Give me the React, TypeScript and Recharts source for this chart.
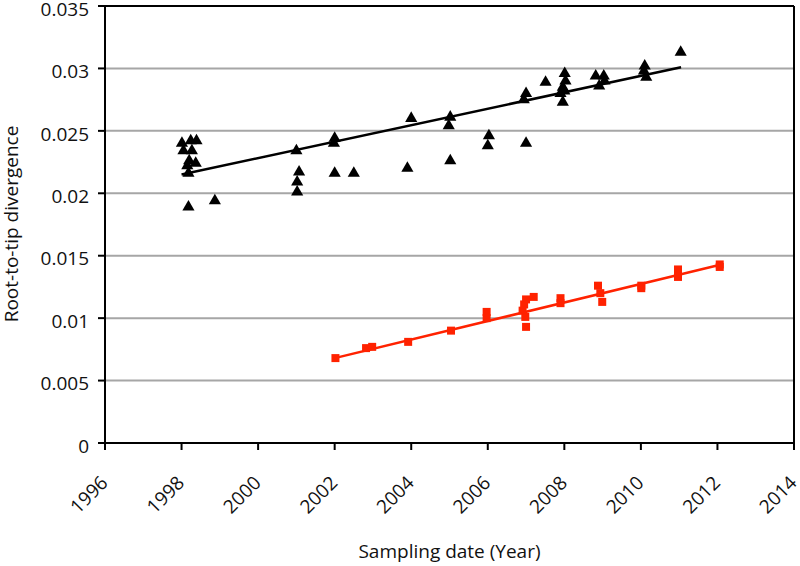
import {
  CartesianGrid,
  ReferenceLine,
  Scatter,
  ScatterChart,
  XAxis,
  YAxis,
  ZAxis,
} from 'recharts';

// black triangles (earlier lineage)
const blackYears = [
  1998.01, 1998.24, 1998.39, 1998.05, 1998.27, 1998.2, 1998.37, 1998.15, 1998.18, 1998.18,
  1998.87, 2001.0, 2001.07, 2001.02, 2001.02, 2002.0, 2001.98, 2002.0, 2002.5, 2003.9,
  2004.0, 2005.02, 2004.98, 2005.02, 2006.03, 2006.0, 2007.0, 2007.0, 2006.94, 2007.51,
  2008.01, 2008.03, 2007.96, 2007.9, 2007.96, 2008.0, 2008.82, 2009.03, 2008.91, 2009.05,
  2010.1, 2010.14, 2010.08, 2011.04,
];
const blackValues = [
  0.024, 0.0242, 0.0242, 0.0234, 0.0234, 0.0226, 0.0224, 0.0222, 0.0216, 0.0189,
  0.0194, 0.0234, 0.0217, 0.0209, 0.0201, 0.0244, 0.024, 0.0216, 0.0216, 0.022,
  0.026, 0.0261, 0.0254, 0.0226, 0.0246, 0.0238, 0.024, 0.028, 0.0275, 0.0289,
  0.0296, 0.029, 0.0285, 0.028, 0.0273, 0.0282, 0.0294, 0.0294, 0.0286, 0.029,
  0.0302, 0.0293, 0.0298, 0.0313,
];

// red squares
const redYears = [
  2002.02, 2002.82, 2002.98, 2003.92, 2005.04, 2005.97, 2005.97, 2006.91, 2007.0, 2007.2,
  2006.98, 2007.0, 2006.95, 2007.9, 2007.9, 2008.88, 2008.94, 2008.99, 2010.01, 2010.01,
  2010.97, 2010.97, 2012.06, 2012.06,
];
const redValues = [
  0.0068, 0.0076, 0.0077, 0.0081, 0.009, 0.0105, 0.01, 0.0106, 0.0115, 0.0117,
  0.0101, 0.0093, 0.0111, 0.0116, 0.0112, 0.0126, 0.012, 0.0113, 0.0126, 0.0124,
  0.0139, 0.0133, 0.0143, 0.0141,
];

// regression line end points
const blackFitYears = [1998.0, 2011.05];
const blackFitValues = [0.0215, 0.0301];
const redFitYears = [2002.0, 2012.1];
const redFitValues = [0.0068, 0.0143];

const xTicks = [1996, 1998, 2000, 2002, 2004, 2006, 2008, 2010, 2012, 2014];
const yTicks = [0, 0.005, 0.01, 0.015, 0.02, 0.025, 0.03, 0.035];

const FONT = '"Open Sans", sans-serif';
const RED = '#ff2200';

const zip = (xs: number[], ys: number[]) => xs.map((x, i) => ({ x, y: ys[i] }));

const blackData = zip(blackYears, blackValues);
const redData = zip(redYears, redValues);
const blackFit = zip(blackFitYears, blackFitValues);
const redFit = zip(redFitYears, redFitValues);

function YearTick(props: any) {
  const { x, y, payload } = props;
  const px = x + 4;
  const py = y + 32;
  return (
    <text
      x={px}
      y={py}
      textAnchor="end"
      transform={`rotate(-45, ${px}, ${py})`}
      fill="#111"
      fontSize={19}
      fontFamily={FONT}
    >
      {payload.value}
    </text>
  );
}

function YTitle() {
  return (
    <text
      x={11}
      y={224}
      transform="rotate(-90, 11, 224)"
      textAnchor="middle"
      dominantBaseline="central"
      fill="#111"
      fontSize={19}
      fontFamily={FONT}
    >
      Root-to-tip divergence
    </text>
  );
}

const noDot = () => <g />;

export default function App() {
  return (
    <div style={{ position: 'absolute', left: 0, top: 0, background: '#fff' }}>
      <ScatterChart width={800} height={566} margin={{ top: 6, right: 6, bottom: 0, left: 0 }}>
        <CartesianGrid vertical={false} stroke="#a6a6a6" strokeWidth={2} />
        <XAxis
          type="number"
          dataKey="x"
          domain={[1996, 2014]}
          ticks={xTicks}
          height={123}
          interval={0}
          tickSize={7}
          axisLine={{ stroke: '#000', strokeWidth: 2 }}
          tickLine={{ stroke: '#000', strokeWidth: 2 }}
          tick={<YearTick />}
          label={{
            value: 'Sampling date (Year)',
            position: 'insideBottom',
            offset: 8,
            fill: '#111',
            fontSize: 19,
            fontFamily: FONT,
          }}
        />
        <YAxis
          type="number"
          dataKey="y"
          domain={[0, 0.035]}
          ticks={yTicks}
          width={105}
          interval={0}
          tickSize={7}
          tickMargin={9}
          axisLine={{ stroke: '#000', strokeWidth: 2 }}
          tickLine={{ stroke: '#000', strokeWidth: 2 }}
          tick={{ fill: '#111', fontSize: 19, fontFamily: FONT, dy: 3 }}
          label={<YTitle />}
        />
        <ZAxis zAxisId="tri" range={[95, 95]} />
        <ZAxis zAxisId="sq" range={[110, 110]} />
        <ReferenceLine y={0.035} stroke="#000" strokeWidth={2} />
        <ReferenceLine x={2014} stroke="#000" strokeWidth={2} />
        <Scatter
          data={blackFit}
          zAxisId="tri"
          line={{ stroke: '#000', strokeWidth: 2.5 }}
          shape={noDot}
          isAnimationActive={false}
        />
        <Scatter
          data={redFit}
          zAxisId="sq"
          line={{ stroke: RED, strokeWidth: 2.5 }}
          shape={noDot}
          isAnimationActive={false}
        />
        <Scatter
          data={blackData}
          zAxisId="tri"
          shape="triangle"
          fill="#000"
          isAnimationActive={false}
        />
        <Scatter
          data={redData}
          zAxisId="sq"
          shape="square"
          fill={RED}
          isAnimationActive={false}
        />
      </ScatterChart>
    </div>
  );
}
